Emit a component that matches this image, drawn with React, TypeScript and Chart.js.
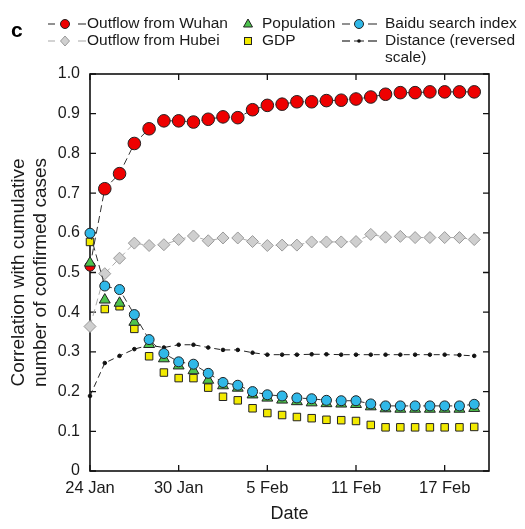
import React, { useEffect, useRef } from 'react';
import { Chart, registerables } from 'chart.js';

Chart.register(...registerables);

// Days from 24 Jan (index 0) to 19 Feb (index 26)
const dates = [
  '24 Jan', '25 Jan', '26 Jan', '27 Jan', '28 Jan', '29 Jan', '30 Jan', '31 Jan',
  '1 Feb', '2 Feb', '3 Feb', '4 Feb', '5 Feb', '6 Feb', '7 Feb', '8 Feb', '9 Feb',
  '10 Feb', '11 Feb', '12 Feb', '13 Feb', '14 Feb', '15 Feb', '16 Feb', '17 Feb',
  '18 Feb', '19 Feb',
];
const xTickDays = [0, 6, 12, 18, 24];
const xTickLabels = ['24 Jan', '30 Jan', '5 Feb', '11 Feb', '17 Feb'];

const outflowWuhan = [
  0.516, 0.711, 0.749, 0.825, 0.862, 0.882, 0.882, 0.879, 0.886, 0.892, 0.89, 0.91, 0.921,
  0.924, 0.93, 0.93, 0.933, 0.934, 0.937, 0.942, 0.949, 0.953, 0.953, 0.955, 0.955, 0.955, 0.955,
];
const outflowHubei = [
  0.364, 0.497, 0.536, 0.574, 0.568, 0.57, 0.583, 0.592, 0.58, 0.587, 0.587, 0.578, 0.568,
  0.569, 0.569, 0.577, 0.577, 0.577, 0.578, 0.596, 0.589, 0.591, 0.588, 0.588, 0.588, 0.588, 0.583,
];
const population = [
  0.524, 0.431, 0.423, 0.375, 0.319, 0.283, 0.265, 0.253, 0.229, 0.215, 0.209, 0.192, 0.184,
  0.179, 0.175, 0.172, 0.17, 0.169, 0.168, 0.162, 0.157, 0.156, 0.156, 0.156, 0.156, 0.156, 0.158,
];
const gdp = [
  0.577, 0.408, 0.415, 0.358, 0.289, 0.248, 0.234, 0.234, 0.21, 0.187, 0.178, 0.158, 0.146,
  0.141, 0.136, 0.133, 0.129, 0.128, 0.126, 0.116, 0.11, 0.11, 0.11, 0.11, 0.11, 0.11, 0.111,
];
const baiduIndex = [
  0.599, 0.466, 0.457, 0.394, 0.331, 0.296, 0.275, 0.269, 0.246, 0.223, 0.216, 0.2, 0.192,
  0.189, 0.184, 0.182, 0.178, 0.177, 0.177, 0.169, 0.164, 0.164, 0.164, 0.164, 0.164, 0.164, 0.168,
];
const distance = [
  0.189, 0.272, 0.29, 0.307, 0.317, 0.311, 0.318, 0.318, 0.311, 0.305, 0.305, 0.298, 0.293,
  0.293, 0.293, 0.294, 0.294, 0.293, 0.293, 0.293, 0.293, 0.293, 0.293, 0.293, 0.293, 0.292, 0.29,
];

const FONT = "'Liberation Sans', Arial, Helvetica, sans-serif";
const TEXT = '#1a1a1a';

const toPoints = (arr: number[]) => arr.map((v, i) => ({ x: i, y: v }));

const framePlugin = {
  id: 'frame',
  beforeDatasetsDraw(chart: any) {
    const { ctx, chartArea } = chart;
    const { left, right, top, bottom } = chartArea;
    const xs = chart.scales.x;
    const ys = chart.scales.y;
    ctx.save();
    ctx.strokeStyle = '#111';
    ctx.lineWidth = 1.6;
    ctx.strokeRect(left, top, right - left, bottom - top);
    ctx.lineWidth = 1.3;
    ctx.beginPath();
    ys.ticks.forEach((t: any) => {
      const py = ys.getPixelForValue(t.value);
      ctx.moveTo(left, py);
      ctx.lineTo(left + 6, py);
      ctx.moveTo(right, py);
      ctx.lineTo(right - 6, py);
    });
    xs.ticks.forEach((t: any) => {
      const px = xs.getPixelForValue(t.value);
      ctx.moveTo(px, bottom);
      ctx.lineTo(px, bottom - 6);
      ctx.moveTo(px, top);
      ctx.lineTo(px, top + 6);
    });
    ctx.stroke();
    ctx.restore();
  },
};

function Legend() {
  const txt: React.CSSProperties = {
    position: 'absolute',
    fontFamily: FONT,
    fontSize: 15.5,
    lineHeight: '17px',
    color: TEXT,
    whiteSpace: 'nowrap',
  };
  const svgStyle: React.CSSProperties = { position: 'absolute', overflow: 'visible' };
  return (
    <>
      <div
        style={{
          position: 'absolute',
          left: 11,
          top: 18,
          fontFamily: FONT,
          fontWeight: 'bold',
          fontSize: 21,
          lineHeight: '24px',
          color: '#000',
        }}
      >
        c
      </div>
      {/* Row 1, col 1 */}
      <svg style={{ ...svgStyle, left: 46, top: 16 }} width={42} height={16}>
        <line x1={2} y1={8} x2={9} y2={8} stroke="#555" strokeWidth={1.3} />
        <circle cx={19} cy={8} r={4.5} fill="#ee0000" stroke="#222" strokeWidth={1} />
        <line x1={32} y1={8} x2={40} y2={8} stroke="#555" strokeWidth={1.3} />
      </svg>
      <div style={{ ...txt, left: 87, top: 14 }}>Outflow from Wuhan</div>
      {/* Row 2, col 1 */}
      <svg style={{ ...svgStyle, left: 46, top: 33 }} width={42} height={16}>
        <line x1={2} y1={8} x2={9} y2={8} stroke="#bbb" strokeWidth={1.3} />
        <polygon points="19,3 23.5,8 19,13 14.5,8" fill="#d0d0d0" stroke="#999" strokeWidth={1} />
        <line x1={32} y1={8} x2={40} y2={8} stroke="#bbb" strokeWidth={1.3} />
      </svg>
      <div style={{ ...txt, left: 87, top: 31 }}>Outflow from Hubei</div>
      {/* Row 1, col 2 */}
      <svg style={{ ...svgStyle, left: 240, top: 16 }} width={16} height={16}>
        <polygon points="8,3 12.5,11 3.5,11" fill="#4dc34d" stroke="#222" strokeWidth={1} />
      </svg>
      <div style={{ ...txt, left: 262, top: 14 }}>Population</div>
      {/* Row 2, col 2 */}
      <svg style={{ ...svgStyle, left: 240, top: 33 }} width={16} height={16}>
        <rect x={4.5} y={4.5} width={7} height={7} fill="#f2ea00" stroke="#222" strokeWidth={1} />
      </svg>
      <div style={{ ...txt, left: 262, top: 31 }}>GDP</div>
      {/* Row 1, col 3 */}
      <svg style={{ ...svgStyle, left: 340, top: 16 }} width={42} height={16}>
        <line x1={2} y1={8} x2={10} y2={8} stroke="#555" strokeWidth={1.3} />
        <circle cx={19} cy={8} r={4.5} fill="#30b8e8" stroke="#222" strokeWidth={1} />
        <line x1={28} y1={8} x2={37} y2={8} stroke="#555" strokeWidth={1.3} />
      </svg>
      <div style={{ ...txt, left: 385, top: 14 }}>Baidu search index</div>
      {/* Row 2, col 3 */}
      <svg style={{ ...svgStyle, left: 340, top: 33 }} width={42} height={16}>
        <line x1={2} y1={8} x2={10} y2={8} stroke="#333" strokeWidth={1.3} />
        <line x1={14} y1={8} x2={24} y2={8} stroke="#333" strokeWidth={1.1} />
        <circle cx={19} cy={8} r={1.8} fill="#111" />
        <line x1={28} y1={8} x2={37} y2={8} stroke="#333" strokeWidth={1.3} />
      </svg>
      <div style={{ ...txt, left: 385, top: 31 }}>Distance (reversed</div>
      <div style={{ ...txt, left: 385, top: 48 }}>scale)</div>
    </>
  );
}

export default function App() {
  const canvasRef = useRef<HTMLCanvasElement | null>(null);

  useEffect(() => {
    if (!canvasRef.current) return;
    const common = { clip: false as any, pointBorderWidth: 1 };
    const wuhanRadius = outflowWuhan.map((_, i) => (i === 0 ? 5 : 6.3));
    const chart = new Chart(canvasRef.current, {
      type: 'line',
      data: {
        labels: dates,
        datasets: [
          {
            label: 'Baidu search index',
            data: toPoints(baiduIndex),
            order: 0,
            borderColor: '#333',
            borderWidth: 1,
            borderDash: [7, 4],
            pointStyle: 'circle',
            pointRadius: 5,
            pointBackgroundColor: '#30b8e8',
            pointBorderColor: '#222',
            ...common,
          },
          {
            label: 'Population',
            data: toPoints(population),
            order: 1,
            showLine: false,
            pointStyle: 'triangle',
            pointRadius: 6.3,
            pointBackgroundColor: '#4dc34d',
            pointBorderColor: '#222',
            ...common,
          },
          {
            label: 'GDP',
            data: toPoints(gdp),
            order: 2,
            showLine: false,
            pointStyle: 'rect',
            pointRadius: 5.3,
            pointBackgroundColor: '#f2ea00',
            pointBorderColor: '#222',
            ...common,
          },
          {
            label: 'Outflow from Wuhan',
            data: toPoints(outflowWuhan),
            order: 3,
            borderColor: '#333',
            borderWidth: 1,
            borderDash: [7, 4],
            pointStyle: 'circle',
            pointRadius: wuhanRadius,
            pointBackgroundColor: '#ee0000',
            pointBorderColor: '#222',
            ...common,
          },
          {
            label: 'Outflow from Hubei',
            data: toPoints(outflowHubei),
            order: 4,
            borderColor: '#aaa',
            borderWidth: 1,
            borderDash: [7, 4],
            pointStyle: 'rectRot',
            pointRadius: 6,
            pointBackgroundColor: '#cfcfcf',
            pointBorderColor: '#999',
            ...common,
          },
          {
            label: 'Distance (reversed scale)',
            data: toPoints(distance),
            order: 5,
            borderColor: '#222',
            borderWidth: 1,
            borderDash: [6, 4],
            pointStyle: 'circle',
            pointRadius: 1.8,
            pointBackgroundColor: '#111',
            pointBorderColor: '#111',
            ...common,
          },
        ],
      },
      options: {
        animation: false,
        responsive: false,
        devicePixelRatio: 1,
        events: [],
        layout: { padding: { left: 0, top: 74, right: 36, bottom: 0 } },
        plugins: {
          legend: { display: false },
          tooltip: { enabled: false },
        },
        scales: {
          x: {
            type: 'linear',
            min: 0,
            max: 27,
            grid: { display: false, drawTicks: false },
            border: { display: false },
            afterBuildTicks: (s: any) => {
              s.ticks = xTickDays.map((v) => ({ value: v }));
            },
            afterFit: (s: any) => {
              s.height = 58;
            },
            ticks: {
              padding: 8,
              maxRotation: 0,
              autoSkip: false,
              color: TEXT,
              font: { family: FONT, size: 16.5 },
              callback: (v: any) => {
                const i = xTickDays.indexOf(Number(v));
                return i >= 0 ? xTickLabels[i] : '';
              },
            },
            title: {
              display: true,
              text: 'Date',
              color: TEXT,
              font: { family: FONT, size: 18, lineHeight: 1.2 },
              padding: { top: 0, bottom: 4 },
            },
          },
          y: {
            min: 0,
            max: 1,
            grid: { display: false, drawTicks: false },
            border: { display: false },
            afterFit: (s: any) => {
              s.width = 90;
            },
            ticks: {
              stepSize: 0.1,
              padding: 10,
              color: TEXT,
              font: { family: FONT, size: 16 },
              callback: (v: any) => (Number(v) === 0 ? '0' : Number(v).toFixed(1)),
            },
            title: {
              display: true,
              text: ['Correlation with cumulative', 'number of confirmed cases'],
              color: TEXT,
              font: { family: FONT, size: 19, lineHeight: 1.14 },
              padding: { top: 8, bottom: 0 },
            },
          },
        },
      },
      plugins: [framePlugin],
    } as any);
    return () => chart.destroy();
  }, []);

  return (
    <div
      style={{
        position: 'fixed',
        left: 0,
        top: 0,
        width: 525,
        height: 529,
        background: '#fff',
      }}
    >
      <canvas
        ref={canvasRef}
        width={525}
        height={529}
        style={{ position: 'absolute', left: 0, top: 0, width: 525, height: 529 }}
      />
      <Legend />
    </div>
  );
}
